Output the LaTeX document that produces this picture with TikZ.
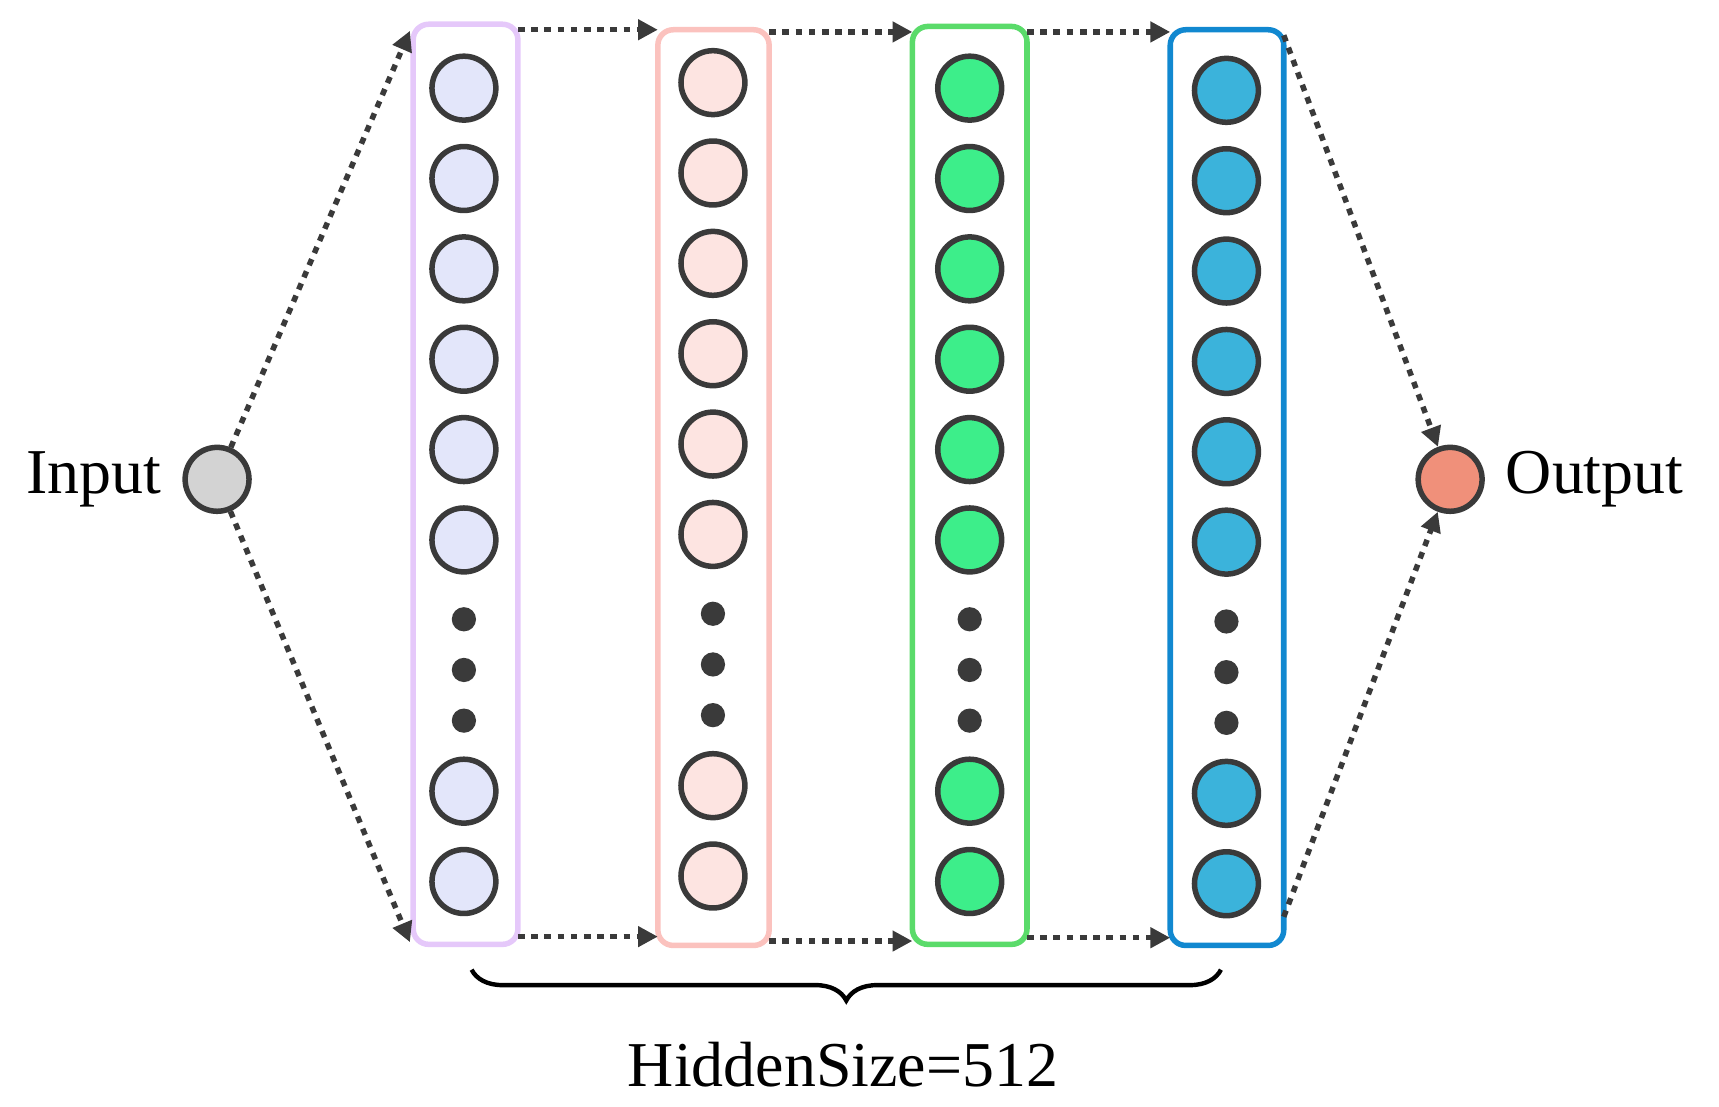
\documentclass[tikz,border=0pt]{standalone}
\usepackage{fontspec}
\setmainfont{Liberation Serif}
\usetikzlibrary{arrows.meta,decorations.pathreplacing}
\definecolor{ink}{HTML}{3A3A3A}
\definecolor{fillA}{HTML}{E3E6FA}\definecolor{lineA}{HTML}{E5C8FA}
\definecolor{fillB}{HTML}{FDE4E1}\definecolor{lineB}{HTML}{FBC2BE}
\definecolor{fillC}{HTML}{3DEE8A}\definecolor{lineC}{HTML}{5ADB6A}
\definecolor{fillD}{HTML}{3BB3DB}\definecolor{lineD}{HTML}{1188D0}
\definecolor{inFill}{HTML}{D3D3D3}\definecolor{outFill}{HTML}{F0907A}
\tikzset{
  neuron/.style={circle, draw=ink, line width=2.5pt, minimum size=29pt, inner sep=0pt},
  layer/.style={draw=#1, line width=2.5pt, rounded corners=7pt},
  flow/.style={ink, line width=2.5pt, dash pattern=on 3pt off 3pt, -{Triangle[length=9pt,width=9pt]}},
  lbl/.style={font=\fontsize{29}{32}\selectfont}
}
\begin{document}
\begin{tikzpicture}[x=0.5pt,y=-0.5pt]
    % Fijar el marco
    \useasboundingbox (0,0) rectangle (1560,1004);

    % Cajas de las capas ocultas
    \draw[layer=lineA] (375,22) rectangle (470,857);
    \draw[layer=lineB] (597,27) rectangle (698,858);
    \draw[layer=lineC] (828,24) rectangle (932,857);
    \draw[layer=lineD] (1062,27) rectangle (1165,858);
    \coordinate (b1tl) at (372,28);  \coordinate (b1bl) at (372,855);
    \coordinate (b1tr) at (470,27);  \coordinate (b1br) at (470,850);
    \coordinate (b2tl) at (597,27);  \coordinate (b2bl) at (597,850);
    \coordinate (b2tr) at (698,29);  \coordinate (b2br) at (698,854);
    \coordinate (b3tl) at (828,29);  \coordinate (b3bl) at (828,854);
    \coordinate (b3tr) at (932,29);  \coordinate (b3br) at (932,851);
    \coordinate (b4tl) at (1062,29); \coordinate (b4bl) at (1062,851);
    \coordinate (b4tr) at (1165,32); \coordinate (b4br) at (1165,832);

    % Neuronas de cada capa
    \foreach \c/\x/\y/\col in {1/421/80/A, 2/647/75/B, 3/880/80/C, 4/1113/82/D}{
      \foreach \k in {0,...,5}
        \node[neuron, fill=fill\col] (n\c-\k) at (\x,\y+82*\k) {};
      \foreach \k in {0,1,2}
        \fill[ink] (\x,\y+482+46*\k) circle (5.5pt);
      \node[neuron, fill=fill\col] (n\c-6) at (\x,\y+638) {};
      \node[neuron, fill=fill\col] (n\c-7) at (\x,\y+720) {};
    }

    % Entrada y salida
    \node[neuron, fill=inFill] (in) at (197,435) {};
    \node[neuron, fill=outFill] (out) at (1316,435) {};
    \node[lbl, left=6pt] at (in.west) {Input};
    \node[lbl, right=6pt] at (out.east) {Output};

    % Flechas punteadas
    \draw[flow] (in) -- (b1tl);
    \draw[flow] (in) -- (b1bl);
    \draw[flow] (b1tr) -- (b2tl);
    \draw[flow] (b1br) -- (b2bl);
    \draw[flow] (b2tr) -- (b3tl);
    \draw[flow] (b2br) -- (b3bl);
    \draw[flow] (b3tr) -- (b4tl);
    \draw[flow] (b3br) -- (b4bl);
    \draw[flow] (b4tr) -- (out);
    \draw[flow] (b4br) -- (out);

    % Llave y etiqueta
    \draw[line width=2pt, decorate, decoration={brace, mirror, amplitude=14pt}]
      (428,880) -- (1108,880);
    \node[lbl] at (765,966) {HiddenSize=512};
\end{tikzpicture}
\end{document}
